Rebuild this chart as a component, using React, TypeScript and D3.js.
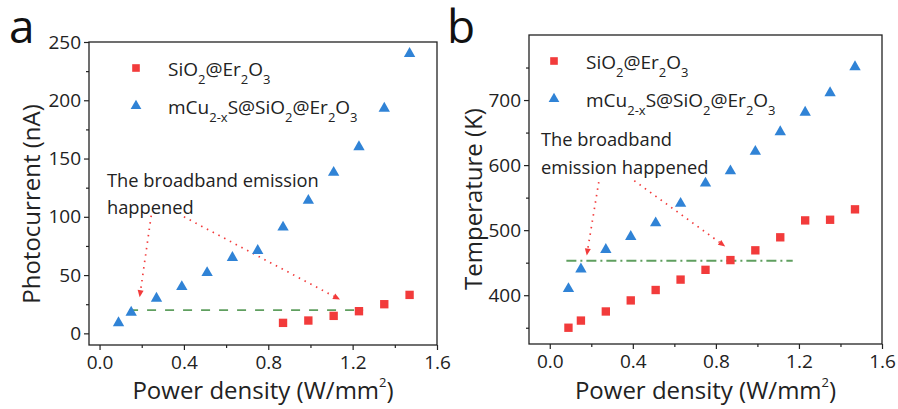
import React, { useEffect, useRef } from "react";
import * as d3 from "d3";

// Power density (W/mm²) at each measurement
const powerAll = [0.09, 0.15, 0.27, 0.39, 0.51, 0.63, 0.75, 0.87, 0.99, 1.11, 1.23, 1.35, 1.47];
const powerHigh = [0.87, 0.99, 1.11, 1.23, 1.35, 1.47];

// Panel a: photocurrent (nA)
const currentSiO2 = [9, 11, 15, 19, 25, 33];
const currentCu = [9, 18, 30, 40, 52, 65, 71, 91, 114, 138, 160, 193, 240];
const currentThreshold = 20;
const currentThresholdSpan = [0.14, 1.25];

// Panel b: temperature (K)
const tempSiO2 = [350, 361, 375, 392, 408, 424, 439, 454, 469, 489, 515, 516, 532];
const tempCu = [410, 440, 470, 490, 511, 541, 572, 591, 621, 651, 681, 711, 751];
const tempThreshold = 453;
const tempThresholdSpan = [0.08, 1.17];

// Tick values
const xMajor = [0, 0.4, 0.8, 1.2, 1.6];
const xMinor = [0.2, 0.6, 1.0, 1.4];
const yMajorA = [0, 50, 100, 150, 200, 250];
const yMinorA = [25, 75, 125, 175, 225];
const yMajorB = [400, 500, 600, 700];
const yMinorB = [350, 450, 550, 650, 750];

// Annotation arrows: [x0, y0, x1, y1] in data units
const arrowsA = [
  [0.245, 101, 0.19, 31],
  [0.4, 100, 1.14, 29],
];
const arrowsB = [
  [0.236, 574, 0.178, 461],
  [0.407, 576, 0.845, 475],
];

const RED = "#f23b3b";
const BLUE = "#3083d6";
const GREEN = "#5f9f5f";
const FONT = "'Open Sans', 'Noto Sans', sans-serif";

type Panel = {
  letter: string;
  letterX: number;
  box: [number, number, number, number]; // left, top, right, bottom
  xDomain: [number, number];
  yDomain: [number, number];
  yMajor: number[];
  yMinor: number[];
  yTitle: string;
  yTitleX: number;
  yTitleY: number;
  squares: [number[], number[]];
  triangles: [number[], number[]];
  threshold: number;
  thresholdSpan: number[];
  thresholdDash: string;
  arrows: number[][];
  noteLines: string[];
  noteX: number;
  noteY: number;
  noteGap: number;
  legendX: number;
  legendY: number;
  legendGap: number;
};

function drawPanel(svg: d3.Selection<SVGSVGElement, unknown, null, undefined>, p: Panel) {
  const [L, T, R, B] = p.box;
  const x = d3.scaleLinear().domain(p.xDomain).range([L, R]);
  const y = d3.scaleLinear().domain(p.yDomain).range([B, T]);
  const g = svg.append("g");

  // x axis (major + minor)
  const xa = g.append("g").attr("transform", `translate(0,${B})`);
  xa.call(
    d3.axisBottom(x).tickValues(xMajor).tickSize(5).tickPadding(6).tickFormat(d3.format(".1f"))
  );
  xa.append("g").call(d3.axisBottom(x).tickValues(xMinor).tickSize(3).tickFormat(() => ""));
  const ya = g.append("g").attr("transform", `translate(${L},0)`);
  ya.call(d3.axisLeft(y).tickValues(p.yMajor).tickSize(5).tickPadding(3).tickFormat(d3.format("d")));
  ya.append("g").call(d3.axisLeft(y).tickValues(p.yMinor).tickSize(3).tickFormat(() => ""));
  g.selectAll(".domain").remove();
  g.selectAll(".tick line").attr("stroke", "#222").attr("stroke-width", 1.2);
  g.selectAll(".tick text")
    .attr("font-family", FONT)
    .attr("font-size", 19)
    .attr("fill", "#222");

  // frame
  g.append("rect")
    .attr("x", L)
    .attr("y", T)
    .attr("width", R - L)
    .attr("height", B - T)
    .attr("fill", "none")
    .attr("stroke", "#222")
    .attr("stroke-width", 1.3);

  // threshold line
  g.append("line")
    .attr("x1", x(p.thresholdSpan[0]))
    .attr("x2", x(p.thresholdSpan[1]))
    .attr("y1", y(p.threshold))
    .attr("y2", y(p.threshold))
    .attr("stroke", GREEN)
    .attr("stroke-width", 1.8)
    .attr("stroke-dasharray", p.thresholdDash);

  // dotted annotation arrows
  p.arrows.forEach(([x0, y0, x1, y1]) => {
    const px0 = x(x0), py0 = y(y0), px1 = x(x1), py1 = y(y1);
    const ang = Math.atan2(py1 - py0, px1 - px0);
    const len = 7, half = 3;
    const bx = px1 - len * Math.cos(ang), by = py1 - len * Math.sin(ang);
    g.append("line")
      .attr("x1", px0).attr("y1", py0).attr("x2", bx).attr("y2", by)
      .attr("stroke", RED)
      .attr("stroke-width", 1.7)
      .attr("stroke-dasharray", "1.5 5");
    const pts = [
      [px1, py1],
      [bx + half * Math.sin(ang), by - half * Math.cos(ang)],
      [bx - half * Math.sin(ang), by + half * Math.cos(ang)],
    ];
    g.append("polygon").attr("points", pts.map((q) => q.join(",")).join(" ")).attr("fill", RED);
  });

  // data markers
  const sq = d3.symbol(d3.symbolSquare, 70);
  const tri = d3.symbol(d3.symbolTriangle, 56);
  const [sx, sy] = p.squares;
  g.append("g")
    .selectAll("path")
    .data(sx.map((v, i) => [v, sy[i]]))
    .join("path")
    .attr("d", sq)
    .attr("transform", (d) => `translate(${x(d[0])},${y(d[1])})`)
    .attr("fill", RED);
  const [tx, ty] = p.triangles;
  g.append("g")
    .selectAll("path")
    .data(tx.map((v, i) => [v, ty[i]]))
    .join("path")
    .attr("d", tri)
    .attr("transform", (d) => `translate(${x(d[0])},${y(d[1])})`)
    .attr("fill", BLUE);

  // legend
  const lg = g.append("g").attr("font-family", FONT).attr("font-size", 19).attr("fill", "#222");
  lg.append("path")
    .attr("d", d3.symbol(d3.symbolSquare, 58)())
    .attr("transform", `translate(${p.legendX},${p.legendY})`)
    .attr("fill", RED);
  lg.append("path")
    .attr("d", d3.symbol(d3.symbolTriangle, 50)())
    .attr("transform", `translate(${p.legendX},${p.legendY + p.legendGap})`)
    .attr("fill", BLUE);
  const richText = (ty0: number, parts: [string, boolean][]) => {
    const t = lg.append("text").attr("x", p.legendX + 32).attr("y", ty0);
    parts.forEach(([s, sub]) => {
      t.append("tspan")
        .attr("font-size", sub ? 13 : 19)
        .attr("baseline-shift", sub ? "-8" : "0")
        .text(s);
    });
  };
  richText(p.legendY + 8, [
    ["SiO", false], ["2", true], ["@Er", false], ["2", true], ["O", false], ["3", true],
  ]);
  richText(p.legendY + p.legendGap + 8, [
    ["mCu", false], ["2-x", true], ["S@SiO", false], ["2", true], ["@Er", false], ["2", true], ["O", false], ["3", true],
  ]);

  // annotation text
  p.noteLines.forEach((s, i) => {
    g.append("text")
      .attr("x", p.noteX)
      .attr("y", p.noteY + i * p.noteGap)
      .attr("font-family", FONT)
      .attr("font-size", 18.3)
      .attr("fill", "#222")
      .text(s);
  });

  // axis titles
  const xt = g.append("text")
    .attr("x", (L + R) / 2)
    .attr("y", 399)
    .attr("text-anchor", "middle")
    .attr("font-family", FONT)
    .attr("font-size", 24)
    .attr("fill", "#222");
  xt.append("tspan").text("Power density (W/mm");
  xt.append("tspan").attr("font-size", 13).attr("baseline-shift", "12").text("2");
  xt.append("tspan").text(")");

  g.append("text")
    .attr("transform", `translate(${p.yTitleX},${p.yTitleY}) rotate(-90)`)
    .attr("text-anchor", "middle")
    .attr("font-family", FONT)
    .attr("font-size", 24)
    .attr("fill", "#222")
    .text(p.yTitle);

  // panel letter
  g.append("text")
    .attr("x", p.letterX)
    .attr("y", 43)
    .attr("font-family", FONT)
    .attr("font-size", 46)
    .attr("fill", "#111")
    .text(p.letter);
}

export default function App() {
  const ref = useRef<SVGSVGElement>(null);
  useEffect(() => {
    if (!ref.current) return;
    const svg = d3.select(ref.current);
    svg.selectAll("*").remove();
    drawPanel(svg, {
      letter: "a",
      letterX: 9,
      box: [89, 42, 437, 345],
      xDomain: [-0.05, 1.6],
      yDomain: [-10, 250],
      yMajor: yMajorA,
      yMinor: yMinorA,
      yTitle: "Photocurrent (nA)",
      yTitleX: 40,
      yTitleY: 204,
      squares: [powerHigh, currentSiO2],
      triangles: [powerAll, currentCu],
      threshold: currentThreshold,
      thresholdSpan: currentThresholdSpan,
      thresholdDash: "9 9",
      arrows: arrowsA,
      noteLines: ["The broadband emission", "happened"],
      noteX: 107,
      noteY: 187,
      noteGap: 27,
      legendX: 136,
      legendY: 68,
      legendGap: 38,
    });
    drawPanel(svg, {
      letter: "b",
      letterX: 447,
      box: [529, 35, 882, 344],
      xDomain: [-0.1, 1.6],
      yDomain: [325, 800],
      yMajor: yMajorB,
      yMinor: yMinorB,
      yTitle: "Temperature (K)",
      yTitleX: 482,
      yTitleY: 199,
      squares: [powerAll, tempSiO2],
      triangles: [powerAll, tempCu],
      threshold: tempThreshold,
      thresholdSpan: tempThresholdSpan,
      thresholdDash: "10 4 2 4",
      arrows: arrowsB,
      noteLines: ["The broadband", "emission happened"],
      noteX: 541,
      noteY: 146,
      noteGap: 28,
      legendX: 554,
      legendY: 61,
      legendGap: 38,
    });
  }, []);
  return (
    <svg
      ref={ref}
      width={898}
      height={409}
      style={{ position: "absolute", left: 0, top: 0, background: "#fff" }}
    />
  );
}
